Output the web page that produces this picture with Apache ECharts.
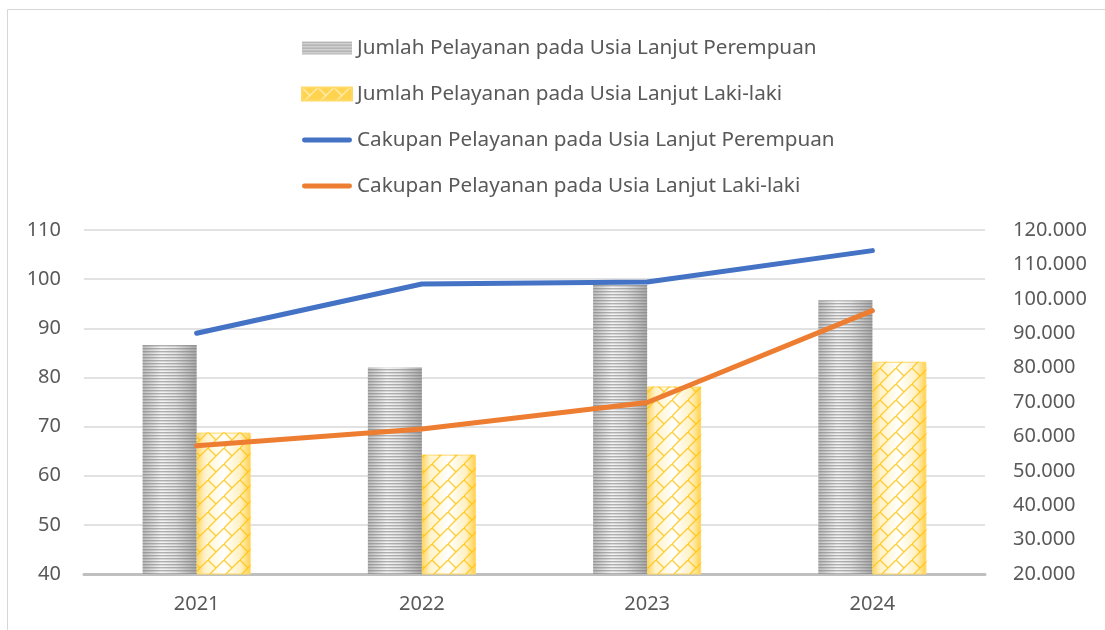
<!DOCTYPE html>
<html>
<head>
<meta charset="utf-8">
<title>Pelayanan Usia Lanjut</title>
<script src="https://cdn.jsdelivr.net/npm/echarts@6/dist/echarts.min.js"></script>
<style>
  html, body { margin: 0; padding: 0; background: #ffffff; }
  #chart { width: 1105px; height: 630px; }
</style>
</head>
<body>
<div id="chart"></div>
<script>
// Years on the category axis
const categories = ['2021', '2022', '2023', '2024'];

// Number of services (right axis)
const jumlahPerempuan = [86600, 80000, 104000, 99600];
const jumlahLakiLaki = [61100, 54700, 74500, 81700];

// Service coverage (left axis)
const cakupanPerempuan = [89.0, 99.0, 99.4, 105.8];
const cakupanLakiLaki = [66.1, 69.5, 74.9, 93.6];

// Axis ranges
const leftAxisRange = { min: 40, max: 110, step: 10 };
const rightAxisRange = { min: 20000, max: 120000, step: 10000 };

const seriesNames = [
  'Jumlah Pelayanan pada Usia Lanjut Perempuan',
  'Jumlah Pelayanan pada Usia Lanjut Laki-laki',
  'Cakupan Pelayanan pada Usia Lanjut Perempuan',
  'Cakupan Pelayanan pada Usia Lanjut Laki-laki'
];

const FONT = '"Noto Sans", "Open Sans", sans-serif';
const TEXT_COLOR = '#595959';
const BLUE = '#4472c4';
const ORANGE = '#ed7d31';

// Fill textures ---------------------------------------------------------
function stripeTile(bg) {
  const c = document.createElement('canvas');
  c.width = 4; c.height = 3;
  const g = c.getContext('2d');
  if (bg) { g.fillStyle = bg; g.fillRect(0, 0, 4, 3); }
  g.fillStyle = 'rgba(120,120,120,0.55)';
  g.fillRect(0, 0, 4, 1);
  g.fillStyle = 'rgba(120,120,120,0.22)';
  g.fillRect(0, 1, 4, 1);
  return { image: c, repeat: 'repeat' };
}

function brickTile(bg, line) {
  const s = 16;
  const c = document.createElement('canvas');
  c.width = s; c.height = s;
  const g = c.getContext('2d');
  if (bg) { g.fillStyle = bg; g.fillRect(0, 0, s, s); }
  g.strokeStyle = line;
  g.lineWidth = 1.3;
  g.beginPath();
  g.moveTo(-2, s + 2); g.lineTo(s + 2, -2);
  g.moveTo(-2, -2); g.lineTo(s / 2, s / 2);
  g.moveTo(s - 2, s + 2); g.lineTo(s + 2, s + 6);
  g.stroke();
  return { image: c, repeat: 'repeat' };
}

const grayShade = new echarts.graphic.LinearGradient(0, 0, 1, 0, [
  { offset: 0, color: '#bdbdbd' },
  { offset: 0.35, color: '#f4f4f4' },
  { offset: 0.6, color: '#e4e4e4' },
  { offset: 1, color: '#a9a9a9' }
]);
const yellowShade = new echarts.graphic.LinearGradient(0, 0, 1, 0, [
  { offset: 0, color: '#ffd45a' },
  { offset: 0.15, color: '#fff2c8' },
  { offset: 0.5, color: '#ffffff' },
  { offset: 0.82, color: '#fff0c0' },
  { offset: 1, color: '#ffd047' }
]);

// Thick rounded stroke used as the legend key of the line series
const LINE_ICON = 'path://M2.5,0 H49.5 A2.5,2.5 0 0 1 49.5,5 H2.5 A2.5,2.5 0 0 1 2.5,0 Z';

function thousands(v) {
  return String(v).replace(/\B(?=(\d{3})+(?!\d))/g, '.');
}

const BAR_W = 54;

const chart = echarts.init(document.getElementById('chart'), null, { renderer: 'canvas' });

chart.setOption({
  backgroundColor: '#ffffff',
  animation: false,
  textStyle: { fontFamily: FONT },
  graphic: [{
    type: 'rect',
    shape: { x: 7.5, y: 9.5, width: 1200, height: 700 },
    style: { fill: 'none', stroke: '#d6d6d6', lineWidth: 1 },
    silent: true,
    z: -10
  }],
  legend: {
    orient: 'vertical',
    left: 296,
    top: 31,
    itemWidth: 50,
    itemHeight: 13,
    itemGap: 22,
    symbolKeepAspect: true,
    textStyle: { color: TEXT_COLOR, fontSize: 20.7, fontFamily: FONT, lineHeight: 24 },
    data: [
      { name: seriesNames[0], icon: 'rect', itemStyle: { color: stripeTile('#dcdcdc') } },
      { name: seriesNames[1], icon: 'rect', itemStyle: { color: brickTile('#ffd34d', 'rgba(255,240,190,0.95)') } },
      { name: seriesNames[2], icon: LINE_ICON, itemStyle: { color: BLUE, borderWidth: 0 } },
      { name: seriesNames[3], icon: LINE_ICON, itemStyle: { color: ORANGE, borderWidth: 0 } }
    ]
  },
  grid: { left: 84, right: 120, top: 230, bottom: 56 },
  xAxis: [{
    type: 'category',
    data: categories,
    axisTick: { show: false },
    axisLine: { lineStyle: { color: '#bfbfbf', width: 3 } },
    axisLabel: { color: TEXT_COLOR, fontSize: 20, margin: 20, fontFamily: FONT }
  }, {
    type: 'category',
    data: categories,
    show: false
  }],
  yAxis: [{
    type: 'value',
    min: leftAxisRange.min,
    max: leftAxisRange.max,
    interval: leftAxisRange.step,
    axisLine: { show: false },
    axisTick: { show: false },
    splitLine: { lineStyle: { color: '#d9d9d9', width: 1.5 } },
    axisLabel: { color: TEXT_COLOR, fontSize: 20, margin: 23, fontFamily: FONT }
  }, {
    type: 'value',
    position: 'right',
    min: rightAxisRange.min,
    max: rightAxisRange.max,
    interval: rightAxisRange.step,
    axisLine: { show: false },
    axisTick: { show: false },
    splitLine: { show: false },
    axisLabel: { color: TEXT_COLOR, fontSize: 20, margin: 28, fontFamily: FONT, formatter: thousands }
  }],
  series: [
    {
      name: seriesNames[0], type: 'bar', xAxisIndex: 0, yAxisIndex: 1,
      data: jumlahPerempuan, barWidth: BAR_W, barGap: '0%',
      itemStyle: { color: grayShade }, z: 2
    },
    {
      name: seriesNames[1], type: 'bar', xAxisIndex: 0, yAxisIndex: 1,
      data: jumlahLakiLaki, barWidth: BAR_W, barGap: '0%',
      itemStyle: { color: yellowShade, borderColor: '#ffd966', borderWidth: 1 }, z: 2
    },
    {
      name: 'stripes', type: 'bar', xAxisIndex: 1, yAxisIndex: 1,
      data: jumlahPerempuan, barWidth: BAR_W, barGap: '0%', silent: true,
      itemStyle: { color: stripeTile(null) }, z: 3
    },
    {
      name: 'bricks', type: 'bar', xAxisIndex: 1, yAxisIndex: 1,
      data: jumlahLakiLaki, barWidth: BAR_W, barGap: '0%', silent: true,
      itemStyle: { color: brickTile(null, 'rgba(255,196,20,0.85)') }, z: 3
    },
    {
      name: seriesNames[2], type: 'line', xAxisIndex: 0, yAxisIndex: 0,
      data: cakupanPerempuan, symbol: 'none', z: 5,
      lineStyle: { color: BLUE, width: 5, cap: 'round', join: 'round' },
      itemStyle: { color: BLUE }
    },
    {
      name: seriesNames[3], type: 'line', xAxisIndex: 0, yAxisIndex: 0,
      data: cakupanLakiLaki, symbol: 'none', z: 5,
      lineStyle: { color: ORANGE, width: 5, cap: 'round', join: 'round' },
      itemStyle: { color: ORANGE }
    }
  ]
});
</script>
</body>
</html>
